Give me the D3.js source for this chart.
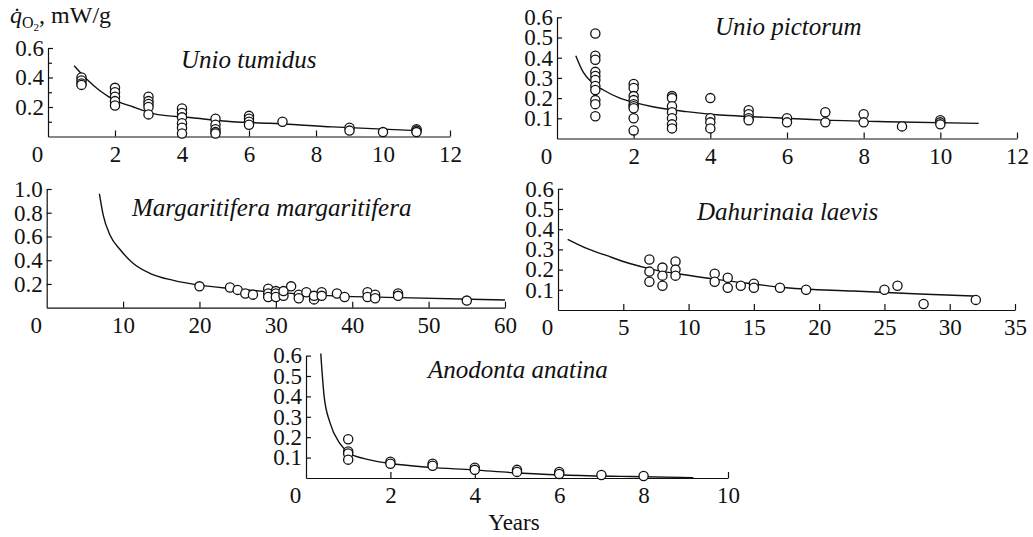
<!DOCTYPE html>
<html>
<head>
<meta charset="utf-8">
<script src="https://cdn.jsdelivr.net/npm/d3@7"></script>
<style>
  html, body { margin: 0; padding: 0; background: #fff; }
  svg { display: block; }
</style>
</head>
<body>
<svg id="chart" width="1033" height="537"></svg>
<script>
// ---------------- DATA ----------------
// Unio tumidus
const tumidusAges = [1, 2, 3, 4, 5, 6, 7, 9, 10, 11];
const tumidusValues = [
  [0.40, 0.38, 0.36, 0.35],
  [0.33, 0.30, 0.27, 0.24, 0.21],
  [0.27, 0.24, 0.22, 0.20, 0.15],
  [0.19, 0.16, 0.13, 0.09, 0.06, 0.02],
  [0.12, 0.08, 0.05, 0.03, 0.02],
  [0.14, 0.12, 0.10, 0.08],
  [0.10],
  [0.06, 0.04],
  [0.03],
  [0.05, 0.04, 0.03]
];
const tumidusCurveX = [0.78, 1.15, 1.55, 2.0, 2.55, 3.14, 4.3, 5.5, 6.6, 8.5, 11.0];
const tumidusCurveY = [0.48, 0.39, 0.31, 0.245, 0.20, 0.155, 0.127, 0.10, 0.09, 0.065, 0.04];
const tumidusXTicks = [0, 2, 4, 6, 8, 10, 12];
const tumidusYTicks = [0.2, 0.4, 0.6];
const tumidusYMinor = [0.1, 0.3, 0.5];

// Unio pictorum
const pictorumAges = [1, 2, 3, 4, 5, 6, 7, 8, 9, 10];
const pictorumValues = [
  [0.52, 0.41, 0.39, 0.33, 0.31, 0.29, 0.26, 0.24, 0.19, 0.17, 0.11],
  [0.27, 0.25, 0.21, 0.19, 0.17, 0.16, 0.15, 0.10, 0.04],
  [0.21, 0.20, 0.16, 0.13, 0.10, 0.07, 0.05],
  [0.20, 0.10, 0.08, 0.05],
  [0.14, 0.12, 0.10, 0.09],
  [0.10, 0.08],
  [0.13, 0.08],
  [0.12, 0.08],
  [0.06],
  [0.09, 0.08, 0.07]
];
const pictorumCurveX = [0.49, 0.68, 0.9, 1.21, 1.64, 1.99, 2.5, 3.38, 4.25, 5.12, 6.86, 8.6, 11.0];
const pictorumCurveY = [0.41, 0.33, 0.28, 0.24, 0.20, 0.18, 0.157, 0.133, 0.116, 0.108, 0.092, 0.083, 0.075];
const pictorumXTicks = [0, 2, 4, 6, 8, 10, 12];
const pictorumYTicks = [0.1, 0.2, 0.3, 0.4, 0.5, 0.6];

// Margaritifera margaritifera
const margAges = [20, 24, 25, 26, 27, 29, 29, 29, 30, 30, 30, 31, 31, 32, 33, 33, 34, 35, 35, 36, 36, 38, 39, 42, 42, 43, 43, 46, 46, 55];
const margValues = [0.18, 0.17, 0.15, 0.12, 0.11, 0.16, 0.12, 0.09, 0.14, 0.12, 0.09, 0.10, 0.14, 0.18, 0.11, 0.08, 0.13, 0.07, 0.10, 0.13, 0.10, 0.12, 0.09, 0.13, 0.09, 0.11, 0.08, 0.12, 0.10, 0.06];
const margCurveX = [6.9, 7.4, 8.3, 9.6, 11.3, 13.5, 16.6, 20, 24.4, 28.8, 37.5, 46.3, 60];
const margCurveY = [0.96, 0.78, 0.61, 0.49, 0.375, 0.29, 0.23, 0.19, 0.16, 0.135, 0.10, 0.085, 0.065];
const margXTicks = [0, 10, 20, 30, 40, 50, 60];
const margYTicks = [0.2, 0.4, 0.6, 0.8, 1.0];

// Dahurinaia laevis
const dahurAges = [7, 7, 7, 8, 8, 8, 9, 9, 9, 12, 12, 13, 13, 14, 15, 15, 17, 19, 25, 26, 28, 32];
const dahurValues = [0.25, 0.19, 0.14, 0.21, 0.17, 0.12, 0.24, 0.20, 0.17, 0.18, 0.14, 0.16, 0.11, 0.12, 0.13, 0.11, 0.11, 0.10, 0.10, 0.12, 0.03, 0.05];
const dahurCurveX = [0.74, 2.2, 3.7, 5.5, 7.3, 9.85, 12.4, 14.96, 17.5, 22.6, 27.7, 31.9];
const dahurCurveY = [0.35, 0.305, 0.27, 0.23, 0.20, 0.173, 0.149, 0.129, 0.11, 0.094, 0.079, 0.069];
const dahurXTicks = [0, 5, 10, 15, 20, 25, 30, 35];
const dahurYTicks = [0.1, 0.2, 0.3, 0.4, 0.5, 0.6];

// Anodonta anatina
const anodAges = [1, 2, 3, 4, 5, 6, 7, 8];
const anodValues = [
  [0.19, 0.13, 0.12, 0.09],
  [0.08, 0.07],
  [0.07, 0.06],
  [0.05, 0.04],
  [0.04, 0.03],
  [0.03, 0.02],
  [0.015],
  [0.01]
];
const anodCurveX = [0.35, 0.43, 0.57, 0.8, 1.04, 1.36, 1.97, 2.94, 3.97, 4.9, 6.1, 7.68, 9.18];
const anodCurveY = [0.61, 0.40, 0.27, 0.17, 0.12, 0.096, 0.072, 0.052, 0.04, 0.026, 0.015, 0.007, 0.002];
const anodXTicks = [0, 2, 4, 6, 8, 10];
const anodYTicks = [0.1, 0.2, 0.3, 0.4, 0.5, 0.6];

const speciesNames = ["Unio tumidus", "Unio pictorum", "Margaritifera margaritifera", "Dahurinaia laevis", "Anodonta anatina"];
const xAxisTitle = "Years";

// ---------------- HELPERS ----------------
function flatten(ages, groups) {
  const pts = [];
  ages.forEach((a, i) => groups[i].forEach(v => pts.push([a, v])));
  return pts;
}
function zipPts(xs, ys) { return xs.map((x, i) => [x, ys[i]]); }

// ---------------- LAYOUT ----------------
const SERIF = "'Liberation Serif', 'Times New Roman', serif";
const panels = [
  { name: speciesNames[0], pts: flatten(tumidusAges, tumidusValues), curve: zipPts(tumidusCurveX, tumidusCurveY),
    xDom: [0, 12], yDom: [0, 0.6], xR: [48, 450], yR: [136.5, 48], xTicks: tumidusXTicks, yTicks: tumidusYTicks, yMinor: tumidusYMinor,
    title: [181, 68] },
  { name: speciesNames[1], pts: flatten(pictorumAges, pictorumValues), curve: zipPts(pictorumCurveX, pictorumCurveY),
    xDom: [0, 12], yDom: [0, 0.6], xR: [557, 1017], yR: [138.5, 17.3], xTicks: pictorumXTicks, yTicks: pictorumYTicks, yMinor: [],
    title: [715, 35] },
  { name: speciesNames[2], pts: zipPts(margAges, margValues), curve: zipPts(margCurveX, margCurveY),
    xDom: [0, 60], yDom: [0, 1.0], xR: [46.7, 505], yR: [307.7, 189], xTicks: margXTicks, yTicks: margYTicks, yMinor: [],
    title: [132, 216] },
  { name: speciesNames[3], pts: zipPts(dahurAges, dahurValues), curve: zipPts(dahurCurveX, dahurCurveY),
    xDom: [0, 35], yDom: [0, 0.6], xR: [558, 1015], yR: [310, 188.8], xTicks: dahurXTicks, yTicks: dahurYTicks, yMinor: [],
    title: [697, 220] },
  { name: speciesNames[4], pts: flatten(anodAges, anodValues), curve: zipPts(anodCurveX, anodCurveY),
    xDom: [0, 10], yDom: [0, 0.6], xR: [306, 728], yR: [478, 355.6], xTicks: anodXTicks, yTicks: anodYTicks, yMinor: [],
    title: [428, 378] }
];

const svg = d3.select("#chart");
const fmt = d3.format(".1f");

panels.forEach(p => {
  const x = d3.scaleLinear().domain(p.xDom).range(p.xR);
  const y = d3.scaleLinear().domain(p.yDom).range(p.yR);
  const g = svg.append("g");

  // y axis (ticks inward)
  const ya = g.append("g").attr("transform", `translate(${p.xR[0]},0)`)
    .call(d3.axisLeft(y).tickValues(p.yTicks).tickFormat(fmt).tickSizeInner(-5).tickSizeOuter(0).tickPadding(4));
  if (p.yMinor.length) {
    g.append("g").attr("transform", `translate(${p.xR[0]},0)`)
      .call(d3.axisLeft(y).tickValues(p.yMinor).tickFormat("").tickSizeInner(-4).tickSizeOuter(0))
      .select(".domain").remove();
  }
  // x axis (ticks inward)
  const xa = g.append("g").attr("transform", `translate(0,${p.yR[0]})`)
    .call(d3.axisBottom(x).tickValues(p.xTicks).tickFormat(d3.format("d")).tickSizeInner(-6).tickSizeOuter(0).tickPadding(9));
  xa.selectAll(".tick").filter(d => d === 0).select("line").remove();
  xa.selectAll(".tick").filter(d => d === 0).select("text").attr("dx", -11);

  [ya, xa].forEach(a => {
    a.attr("font-size", 23).attr("font-family", SERIF);
    a.selectAll("path, line").attr("stroke", "#111").attr("stroke-width", 1.2);
    a.selectAll("text").attr("fill", "#111").attr("font-family", SERIF);
  });
  g.selectAll("line").attr("stroke", "#111").attr("stroke-width", 1.2);

  // fitted curve
  const line = d3.line().x(d => x(d[0])).y(d => y(d[1])).curve(d3.curveMonotoneX);
  g.append("path").datum(p.curve).attr("d", line)
    .attr("fill", "none").attr("stroke", "#111").attr("stroke-width", 1.4);

  // points
  g.selectAll("circle").data(p.pts).join("circle")
    .attr("cx", d => x(d[0])).attr("cy", d => y(d[1])).attr("r", 4.6)
    .attr("fill", "#fff").attr("stroke", "#111").attr("stroke-width", 1.3);

  // species title
  g.append("text").attr("x", p.title[0]).attr("y", p.title[1])
    .attr("font-family", SERIF).attr("font-style", "italic").attr("font-size", 25).attr("fill", "#111")
    .text(p.name);
});

// y-axis quantity label: q̇ O2, mW/g
const yl = svg.append("text").attr("x", 10).attr("y", 23)
  .attr("font-family", SERIF).attr("font-size", 24).attr("fill", "#111");
yl.append("tspan").attr("font-style", "italic").text("q\u0307");
yl.append("tspan").attr("font-size", 16).attr("dy", 5).text("O");
yl.append("tspan").attr("font-size", 11).attr("dy", 3).text("2");
yl.append("tspan").attr("dy", -8).text(", mW/g");

// x-axis title
svg.append("text").attr("x", 514).attr("y", 530).attr("text-anchor", "middle")
  .attr("font-family", SERIF).attr("font-size", 23).attr("fill", "#111").text(xAxisTitle);
</script>
</body>
</html>
